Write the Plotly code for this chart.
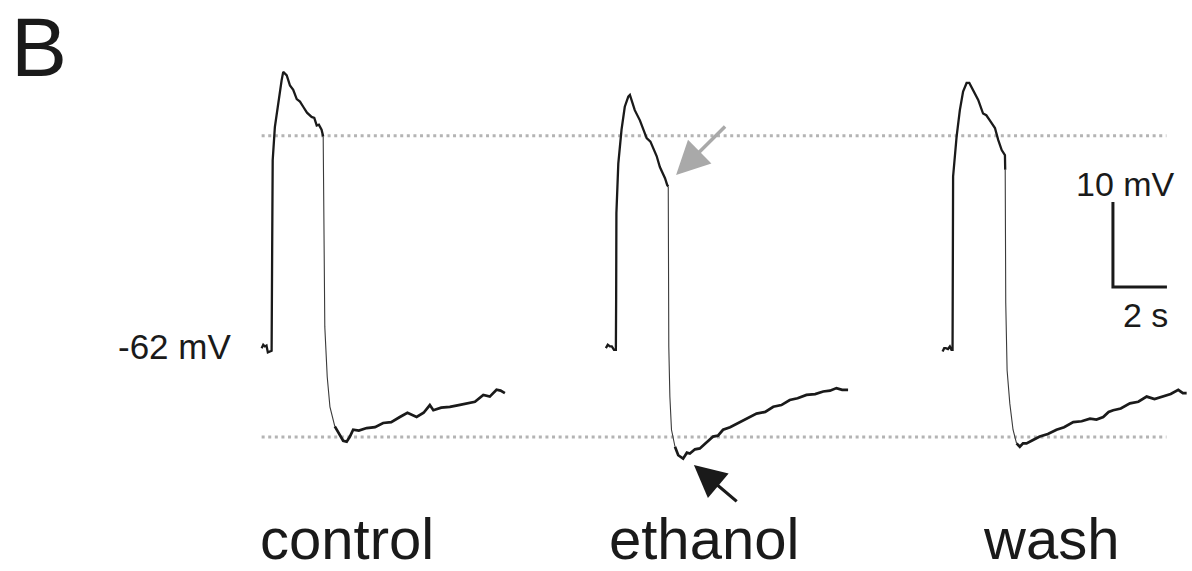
import plotly.graph_objects as go

# ---- data (time in s relative to trace start, membrane potential in mV) ----
control_t = [0.00, 0.06, 0.12, 0.18, 0.23, 0.33, 0.37, 0.39, 0.41, 0.49, 0.61, 0.74, 0.80,
             0.93, 1.05, 1.17, 1.30, 1.42, 1.54, 1.68, 1.85, 1.95, 2.04, 2.12, 2.22, 2.26,
             2.28, 2.31, 2.34, 2.43, 2.53, 2.71, 2.90, 3.02, 3.15, 3.27, 3.39,
             3.60, 3.89, 4.20, 4.50, 4.80, 5.12, 5.40, 5.74, 6.00, 6.23, 6.36, 6.65, 6.97,
             7.30, 7.59, 7.90, 8.21, 8.45, 8.70, 8.85, 9.01]
control_v = [-61.9, -61.5, -61.7, -61.6, -62.4, -62.3, -62.2, -50.4, -39.8, -35.9, -33.1, -30.4, -29.4,
             -29.8, -31.0, -31.5, -32.6, -32.9, -33.5, -34.2, -34.7, -34.8, -35.7, -35.6, -36.2, -36.8,
             -37.0, -48.0, -59.4, -65.3, -68.8, -71.1, -72.1, -72.8, -72.9, -72.3, -71.5,
             -71.6, -71.3, -71.2, -70.7, -70.6, -70.0, -69.5, -70.0, -69.5, -68.6, -69.2, -68.9, -68.8,
             -68.6, -68.4, -68.2, -67.4, -67.6, -66.8, -66.9, -67.2]

ethanol_t = [0.00, 0.07, 0.15, 0.22, 0.30, 0.37, 0.38, 0.39, 0.46, 0.58, 0.70, 0.83, 0.89,
             1.07, 1.26, 1.40, 1.51, 1.65, 1.75, 1.88, 2.00, 2.10, 2.19, 2.27,
             2.31, 2.32, 2.33, 2.37, 2.43, 2.56, 2.68, 2.86, 3.00, 3.11, 3.30, 3.48,
             3.70, 3.97, 4.15, 4.34, 4.60, 4.96, 5.25, 5.58, 5.90, 6.20, 6.50, 6.81,
             7.10, 7.43, 7.75, 8.05, 8.30, 8.54, 8.75, 8.97]
ethanol_v = [-61.9, -61.5, -61.7, -61.7, -62.1, -62.1, -56.2, -46.0, -40.2, -36.2, -33.5, -32.3, -32.1,
             -33.9, -35.1, -36.2, -37.2, -37.6, -38.4, -39.3, -40.6, -41.3, -41.9, -42.7,
             -42.9, -51.5, -61.7, -67.6, -71.5, -73.5, -74.5, -74.9, -74.2, -74.3, -73.8, -73.7,
             -73.1, -72.3, -72.2, -71.5, -71.2, -70.6, -70.2, -69.6, -69.4, -68.8, -68.6, -68.0,
             -67.8, -67.4, -67.3, -67.0, -66.9, -66.6, -66.8, -66.8]

wash_t = [0.00, 0.06, 0.12, 0.20, 0.27, 0.33, 0.37, 0.38, 0.39, 0.52, 0.64, 0.76, 0.89, 0.99,
          1.13, 1.32, 1.50, 1.62, 1.75, 1.94, 2.06, 2.19, 2.31,
          2.32, 2.34, 2.39, 2.49, 2.61, 2.74, 2.86, 2.98, 3.11,
          3.35, 3.60, 3.90, 4.22, 4.50, 4.84, 5.15, 5.46, 5.70, 5.95, 6.15, 6.32, 6.60, 6.94,
          7.25, 7.56, 7.85, 8.17, 8.45, 8.73, 8.90, 9.04]
wash_v = [-62.3, -61.9, -61.9, -62.0, -61.7, -62.1, -62.1, -48.8, -41.7, -37.0, -33.9, -31.7, -30.7, -30.7,
          -31.5, -32.7, -34.3, -34.5, -35.1, -36.0, -37.4, -38.6, -39.2,
          -40.9, -56.6, -64.5, -68.4, -71.5, -73.1, -73.5, -73.1, -73.1,
          -72.7, -72.3, -72.0, -71.5, -71.2, -70.6, -70.5, -70.2, -70.3, -70.0, -69.4, -69.2, -69.0, -68.4,
          -68.2, -67.6, -67.9, -67.6, -67.3, -66.8, -67.2, -67.2]

conditions = ["control", "ethanol", "wash"]
traces_t = [control_t, ethanol_t, wash_t]
traces_v = [control_v, ethanol_v, wash_v]
fall_index = [26, 24, 23]          # first point of the fast repolarisation
recovery_index = [31, 29, 28]      # first point after the fast repolarisation

resting_label = "-62 mV"
ref_levels = [-36.9, -72.35]       # dotted reference levels (mV)
scale_mv = 10
scale_s = 2

# ---- layout helpers ----
trace_offsets = [9.69, 22.44, 34.91]   # s, horizontal placement of each sweep
X_RANGE = [0, 44.148]
Y_RANGE = [-88.118, -20.941]

fig = go.Figure()

# dotted reference lines
for lvl in ref_levels:
    fig.add_trace(go.Scatter(x=[9.69, 43.2], y=[lvl, lvl], mode="lines",
                             line=dict(color="#b4b4b4", width=3, dash="3px,3.6px"),
                             hoverinfo="skip", showlegend=False))

for t, v, off, fi, ri in zip(traces_t, traces_v, trace_offsets, fall_index, recovery_index):
    x = [off + ti for ti in t]
    segs = [(0, fi + 1, 2.3, "#1a1a1a"), (fi, ri + 1, 1.1, "#3a3a3a"), (ri, len(t), 2.7, "#1a1a1a")]
    for a, b, w, c in segs:
        fig.add_trace(go.Scatter(x=x[a:b], y=v[a:b], mode="lines",
                                 line=dict(color=c, width=w, shape="linear"),
                                 hoverinfo="skip", showlegend=False))

# scale bar
sb_x, sb_y = 41.22, -54.71
fig.add_trace(go.Scatter(x=[sb_x, sb_x, sb_x + scale_s], y=[sb_y + scale_mv, sb_y, sb_y],
                         mode="lines", line=dict(color="#1a1a1a", width=3),
                         hoverinfo="skip", showlegend=False))

FONT = "Liberation Sans, Arial, Helvetica, sans-serif"
ann = []
ann.append(dict(x=1.444, y=Y_RANGE[1] - 0.03, text="B", showarrow=False, font=dict(size=84, color="#1a1a1a", family=FONT),
                xanchor="center", yanchor="top", borderpad=0, borderwidth=0))
ann.append(dict(x=8.55, y=-61.75, text=resting_label, showarrow=False, font=dict(size=35, color="#1a1a1a", family=FONT),
                xanchor="right", yanchor="middle", borderpad=0, borderwidth=0))
for name, cx in zip(conditions, [12.87, 26.06, 38.91]):
    ann.append(dict(x=cx, y=Y_RANGE[0] + 0.02, text=name, showarrow=False,
                    font=dict(size=58, color="#1a1a1a", family=FONT),
                    xanchor="center", yanchor="bottom", borderpad=0, borderwidth=0))
ann.append(dict(x=41.67, y=-42.6, text=f"{scale_mv} mV", showarrow=False, font=dict(size=34, color="#1a1a1a", family=FONT),
                xanchor="center", yanchor="middle", borderpad=0, borderwidth=0))
ann.append(dict(x=42.43, y=-58.0, text=f"{scale_s} s", showarrow=False, font=dict(size=34, color="#1a1a1a", family=FONT),
                xanchor="center", yanchor="middle", borderpad=0, borderwidth=0))
# arrows
ann.append(dict(x=25.04, y=-41.53, ax=26.91, ay=-35.65, axref="x", ayref="y", text="", showarrow=True,
                arrowhead=2, arrowsize=1.9, arrowwidth=3.5, arrowcolor="#a9a9a9"))
ann.append(dict(x=25.70, y=-75.65, ax=27.34, ay=-80.08, axref="x", ayref="y", text="", showarrow=True,
                arrowhead=2, arrowsize=2.0, arrowwidth=3.2, arrowcolor="#1a1a1a"))

fig.update_layout(width=1192, height=571, margin=dict(l=0, r=0, t=0, b=0),
                  paper_bgcolor="white", plot_bgcolor="white", annotations=ann,
                  xaxis=dict(range=X_RANGE, visible=False, fixedrange=True),
                  yaxis=dict(range=Y_RANGE, visible=False, fixedrange=True))

fig.write_html("out.html")
